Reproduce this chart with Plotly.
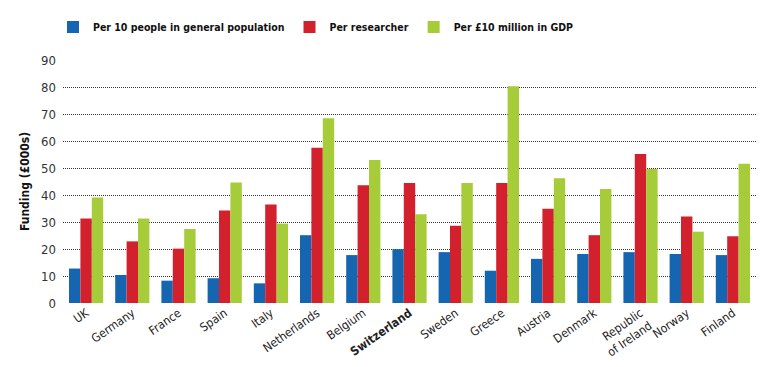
import plotly.graph_objects as go

countries = ["UK", "Germany", "France", "Spain", "Italy", "Netherlands", "Belgium",
             "Switzerland", "Sweden", "Greece", "Austria", "Denmark",
             "Republic of Ireland", "Norway", "Finland"]
tick_labels = ["UK", "Germany", "France", "Spain", "Italy", "Netherlands", "Belgium",
               "<b>Switzerland</b>", "Sweden", "Greece", "Austria", "Denmark",
               "Republic<br>of Ireland", "Norway", "Finland"]
per_population = [12.8, 10.4, 8.3, 9.2, 7.3, 25.2, 17.8, 20.0, 18.9, 12.0, 16.4, 18.2, 18.9, 18.2, 17.8]
per_researcher = [31.4, 22.9, 20.2, 34.4, 36.6, 57.7, 43.8, 44.6, 28.7, 44.6, 35.0, 25.2, 55.4, 32.1, 24.8]
per_gdp = [39.2, 31.4, 27.5, 44.8, 29.5, 68.7, 53.1, 33.0, 44.6, 80.5, 46.4, 42.4, 49.8, 26.5, 51.7]
y_ticks = [0, 10, 20, 30, 40, 50, 60, 70, 80, 90]

FONT = "DejaVu Sans Condensed, Liberation Sans Narrow, sans-serif"

fig = go.Figure()
series = [
    ("Per 10 people in general population", per_population, "#1565b0"),
    ("Per researcher", per_researcher, "#d2202d"),
    ("Per £10 million in GDP", per_gdp, "#a6cd39"),
]
for name, vals, col in series:
    fig.add_trace(go.Bar(x=countries, y=vals, name=name, marker_color=col,
                         marker_line_width=0))

fig.update_layout(
    width=780, height=367,
    margin=dict(l=63, r=24, t=60, b=64),
    barmode="group", bargap=0.26, bargroupgap=0,
    plot_bgcolor="white", paper_bgcolor="white",
    font=dict(family=FONT, size=12, color="#222"),
    legend=dict(orientation="h", x=53 / 780, xanchor="left", xref="container",
                y=1 - 27 / 367, yanchor="middle", yref="container",
                font=dict(family=FONT, size=10.5, color="#111", weight="bold"),
                itemwidth=30, traceorder="normal"),
    showlegend=True,
)
fig.update_xaxes(tickmode="array", tickvals=countries, ticktext=tick_labels,
                 tickangle=-35, showgrid=False, showline=False, ticks="",
                 automargin=False,
                 tickfont=dict(family=FONT, size=12, color="#222"))
fig.update_yaxes(range=[0, 90.3], tickvals=y_ticks, showgrid=True, gridcolor="#333",
                 griddash="1px,1px", gridwidth=1, zeroline=False, showline=False,
                 automargin=False, ticklabelstandoff=6,
                 tickfont=dict(family=FONT, size=13, color="#333"),
                 title=dict(text="<b>Funding (£000s)</b>", font=dict(family=FONT, size=12, color="#111"),
                            standoff=8))

fig.write_html("out.html", config={"displayModeBar": False},
               post_script="document.body.style.margin='0';")
